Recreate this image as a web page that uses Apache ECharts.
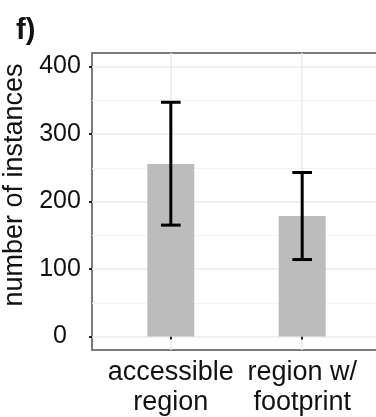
<!DOCTYPE html>
<html>
<head>
<meta charset="utf-8">
<script src="https://cdn.jsdelivr.net/npm/echarts@6/dist/echarts.min.js"></script>
<style>
  html, body { margin: 0; padding: 0; background: #fff; }
  #chart { width: 376px; height: 417px; }
</style>
</head>
<body>
<div id="chart"></div>
<script>
// Mean number of instances per region type, with error bar bounds
const categories = ['accessible\nregion', 'region w/\nfootprint'];
const positions = [1, 2];
const means = [255.5, 178.5];
const lower = [165, 114];
const upper = [347, 243];
const yMajorTicks = [0, 100, 200, 300, 400];
const yMinorTicks = [50, 150, 250, 350];

const FONT = '"Liberation Sans", Arial, Helvetica, sans-serif';

const chart = echarts.init(document.getElementById('chart'), null, { renderer: 'canvas' });

const barData = positions.map((p, i) => [p, means[i]]);
const errData = positions.map((p, i) => [p, lower[i], upper[i]]);

const CAP_HALF = 0.075; // half cap width in x-axis units

chart.setOption({
  animation: false,
  backgroundColor: '#ffffff',
  title: {
    text: 'f)',
    left: 11,
    top: 11,
    textStyle: { fontFamily: FONT, fontWeight: 'bold', fontSize: 29, color: '#111' }
  },
  grid: {
    left: 92, top: 53, width: 289, bottom: 67,
    outerBoundsMode: 'none',
    show: true,
    borderColor: '#7a7a7a',
    borderWidth: 2,
    containLabel: false
  },
  xAxis: {
    type: 'value',
    min: 0.4,
    max: 2.6,
    axisLine: { show: false },
    axisTick: {
      show: true, length: 3, customValues: positions,
      lineStyle: { color: '#222', width: 2 }
    },
    axisLabel: {
      customValues: positions,
      margin: 8,
      fontFamily: FONT, fontSize: 27, color: '#111', lineHeight: 30,
      formatter: v => categories[positions.indexOf(Math.round(v))] || ''
    },
    splitLine: { show: true, lineStyle: { color: '#ebebeb', width: 1.5 } }
  },
  yAxis: [
    {
      type: 'value',
      min: -20,
      max: 420,
      name: 'number of instances',
      nameLocation: 'middle',
      nameGap: 62,
      nameTextStyle: { fontFamily: FONT, fontSize: 27, color: '#111', padding: [0, 0, 0, 33] },
      axisLine: { show: false },
      axisTick: {
        show: true, length: 3, customValues: yMajorTicks,
        lineStyle: { color: '#222', width: 2 }
      },
      axisLabel: {
        customValues: yMajorTicks,
        margin: 32,
        align: 'center',
        fontFamily: FONT, fontSize: 25, color: '#111'
      },
      splitLine: { show: true, lineStyle: { color: '#ebebeb', width: 1.5 } }
    },
    {
      // minor horizontal grid lines
      type: 'value',
      min: -20,
      max: 420,
      position: 'left',
      axisLine: { show: false },
      axisTick: { show: false, customValues: yMinorTicks },
      axisLabel: { show: false },
      splitLine: { show: true, lineStyle: { color: '#f4f4f4', width: 1 } }
    }
  ],
  series: [
    {
      type: 'bar',
      data: barData,
      barWidth: 47,
      itemStyle: { color: '#bcbcbc' },
      z: 2
    },
    {
      type: 'custom',
      data: errData,
      z: 3,
      renderItem: function (params, api) {
        const x = api.value(0);
        const lo = api.value(1);
        const hi = api.value(2);
        const pLo = api.coord([x, lo]);
        const pHi = api.coord([x, hi]);
        const capL1 = api.coord([x - CAP_HALF, hi]);
        const capR1 = api.coord([x + CAP_HALF, hi]);
        const capL2 = api.coord([x - CAP_HALF, lo]);
        const capR2 = api.coord([x + CAP_HALF, lo]);
        const style = { stroke: '#000', lineWidth: 3 };
        return {
          type: 'group',
          children: [
            { type: 'line', shape: { x1: pLo[0], y1: pLo[1], x2: pHi[0], y2: pHi[1] }, style },
            { type: 'line', shape: { x1: capL1[0], y1: capL1[1], x2: capR1[0], y2: capR1[1] }, style },
            { type: 'line', shape: { x1: capL2[0], y1: capL2[1], x2: capR2[0], y2: capR2[1] }, style }
          ]
        };
      }
    }
  ]
});
</script>
</body>
</html>
